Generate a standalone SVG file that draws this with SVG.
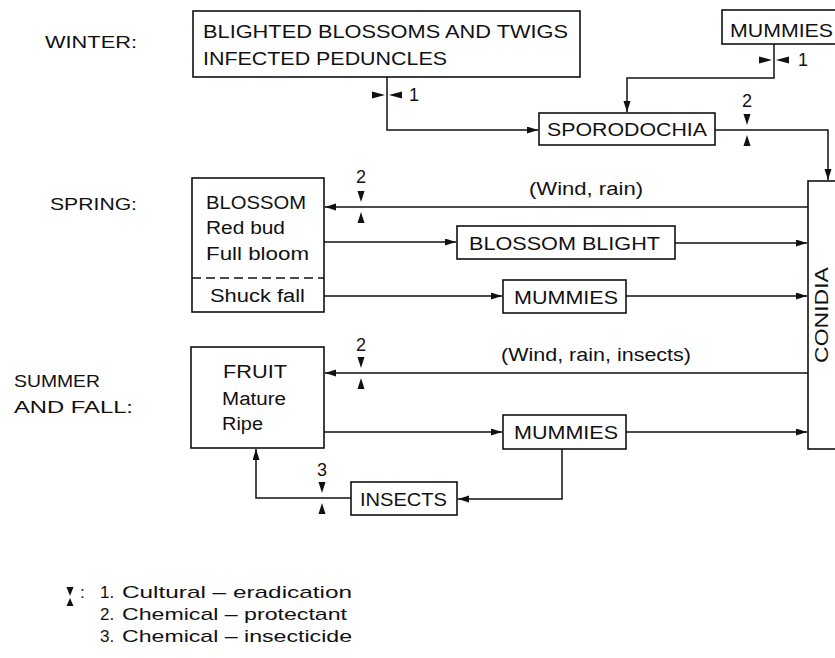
<svg xmlns="http://www.w3.org/2000/svg" xmlns:xlink="http://www.w3.org/1999/xlink" width="835" height="658" viewBox="0 0 835 658">
<style>
text{font-family:"Liberation Sans",Arial,sans-serif;fill:#111;font-size:18px}
.box{fill:#fff;stroke:#111;stroke-width:1.6}
.ln{fill:none;stroke:#111;stroke-width:1.5}
.tri{fill:#111}
.lab{font-size:17px}
.num{font-size:18px;text-anchor:middle}
.leg{font-size:17px}
</style>
<defs>
<marker id="arr" markerUnits="userSpaceOnUse" markerWidth="12" markerHeight="8" refX="11" refY="3.5" orient="auto">
<path d="M0,0 L11,3.5 L0,7 Z" fill="#111"/>
</marker>
<g id="ctlh"><path class="tri" d="M-3.5,-16 L3.5,-16 L0,-5 Z"/><path class="tri" d="M-3.5,16 L3.5,16 L0,5 Z"/></g>
<g id="ctlv"><path class="tri" d="M-15,-3.5 L-15,3.5 L-2,0 Z"/><path class="tri" d="M15,-3.5 L15,3.5 L2,0 Z"/></g>
</defs>
<rect width="835" height="658" fill="#fff"/>

<g id="season-labels">
<text class="lab" x="45" y="48" textLength="92" lengthAdjust="spacingAndGlyphs">WINTER:</text>
<text class="lab" x="50" y="210" textLength="87" lengthAdjust="spacingAndGlyphs">SPRING:</text>
<text class="lab" x="14" y="387" textLength="86" lengthAdjust="spacingAndGlyphs">SUMMER</text>
<text class="lab" x="14" y="413" textLength="119" lengthAdjust="spacingAndGlyphs">AND FALL:</text>
</g>

<g id="connectors">
<path class="ln" d="M387,77 V130 H538" marker-end="url(#arr)"/>
<path class="ln" d="M774,44 V78 H627 V112" marker-end="url(#arr)"/>
<path class="ln" d="M715,130 H828 V180" marker-end="url(#arr)"/>
<path class="ln" d="M808,207 H325" marker-end="url(#arr)"/>
<path class="ln" d="M324,242 H456" marker-end="url(#arr)"/>
<path class="ln" d="M675,243 H807" marker-end="url(#arr)"/>
<path class="ln" d="M324,296 H502" marker-end="url(#arr)"/>
<path class="ln" d="M626,296 H807" marker-end="url(#arr)"/>
<path class="ln" d="M808,373 H325" marker-end="url(#arr)"/>
<path class="ln" d="M324,432 H502" marker-end="url(#arr)"/>
<path class="ln" d="M626,432 H807" marker-end="url(#arr)"/>
<path class="ln" d="M562,449 V499 H458" marker-end="url(#arr)"/>
<path class="ln" d="M351,498 H256 V449" marker-end="url(#arr)"/>
</g>

<g id="controls">
<use xlink:href="#ctlv" x="387" y="95"/>
<text class="num" x="414" y="101">1</text>
<use xlink:href="#ctlv" x="774" y="60"/>
<text class="num" x="803" y="66">1</text>
<use xlink:href="#ctlh" x="747" y="130"/>
<text class="num" x="747" y="107">2</text>
<use xlink:href="#ctlh" x="361" y="207"/>
<text class="num" x="361" y="183">2</text>
<use xlink:href="#ctlh" x="361" y="373"/>
<text class="num" x="361" y="351">2</text>
<use xlink:href="#ctlh" x="322" y="498"/>
<text class="num" x="322" y="476">3</text>
</g>

<g id="blighted">
<rect class="box" x="193" y="11" width="387" height="66"/>
<text x="203" y="38" textLength="365" lengthAdjust="spacingAndGlyphs">BLIGHTED BLOSSOMS AND TWIGS</text>
<text x="203" y="65" textLength="244" lengthAdjust="spacingAndGlyphs">INFECTED PEDUNCLES</text>
</g>

<g id="mummies-winter">
<rect class="box" x="722" y="10" width="130" height="34"/>
<text x="730" y="37" textLength="103" lengthAdjust="spacingAndGlyphs">MUMMIES</text>
</g>

<g id="sporodochia">
<rect class="box" x="539" y="113" width="176" height="32"/>
<text x="547" y="136" textLength="160" lengthAdjust="spacingAndGlyphs">SPORODOCHIA</text>
</g>

<g id="conidia">
<rect class="box" x="808" y="181" width="40" height="268"/>
<text x="0" y="0" transform="translate(828,315) rotate(-90)" text-anchor="middle" textLength="96" lengthAdjust="spacingAndGlyphs">CONIDIA</text>
</g>

<g id="blossom">
<rect class="box" x="192" y="178" width="132" height="134"/>
<line x1="192" y1="278" x2="324" y2="278" stroke="#111" stroke-width="1.5" stroke-dasharray="9,5"/>
<text x="206" y="209" textLength="100" lengthAdjust="spacingAndGlyphs">BLOSSOM</text>
<text x="206" y="234" textLength="79" lengthAdjust="spacingAndGlyphs">Red bud</text>
<text x="206" y="260" textLength="103" lengthAdjust="spacingAndGlyphs">Full bloom</text>
<text x="210" y="302" textLength="95" lengthAdjust="spacingAndGlyphs">Shuck fall</text>
</g>

<g id="blossom-blight">
<rect class="box" x="457" y="226" width="218" height="33"/>
<text x="469" y="250" textLength="191" lengthAdjust="spacingAndGlyphs">BLOSSOM BLIGHT</text>
</g>

<g id="mummies-spring">
<rect class="box" x="503" y="280" width="123" height="33"/>
<text x="514" y="304" textLength="104" lengthAdjust="spacingAndGlyphs">MUMMIES</text>
</g>

<g id="wind-labels">
<text x="529" y="195" textLength="114" lengthAdjust="spacingAndGlyphs">(Wind, rain)</text>
<text x="501" y="361" textLength="190" lengthAdjust="spacingAndGlyphs">(Wind, rain, insects)</text>
</g>

<g id="fruit">
<rect class="box" x="191" y="347" width="133" height="101"/>
<text x="223" y="378" textLength="64" lengthAdjust="spacingAndGlyphs">FRUIT</text>
<text x="222" y="405" textLength="64" lengthAdjust="spacingAndGlyphs">Mature</text>
<text x="222" y="430" textLength="41" lengthAdjust="spacingAndGlyphs">Ripe</text>
</g>

<g id="mummies-summer">
<rect class="box" x="503" y="415" width="123" height="34"/>
<text x="514" y="439" textLength="104" lengthAdjust="spacingAndGlyphs">MUMMIES</text>
</g>

<g id="insects">
<rect class="box" x="351" y="482" width="106" height="33"/>
<text x="360" y="506" textLength="87" lengthAdjust="spacingAndGlyphs">INSECTS</text>
</g>

<g id="legend">
<path class="tri" d="M66.5,587 L73.5,587 L70,596 Z"/>
<path class="tri" d="M66.5,606 L73.5,606 L70,598 Z"/>
<text class="leg" x="80" y="598">:</text>
<text class="leg" x="100" y="598">1.</text>
<text class="leg" x="122" y="598" textLength="230" lengthAdjust="spacingAndGlyphs">Cultural – eradication</text>
<text class="leg" x="100" y="620">2.</text>
<text class="leg" x="122" y="620" textLength="225" lengthAdjust="spacingAndGlyphs">Chemical – protectant</text>
<text class="leg" x="100" y="642">3.</text>
<text class="leg" x="122" y="642" textLength="230" lengthAdjust="spacingAndGlyphs">Chemical – insecticide</text>
</g>
</svg>
